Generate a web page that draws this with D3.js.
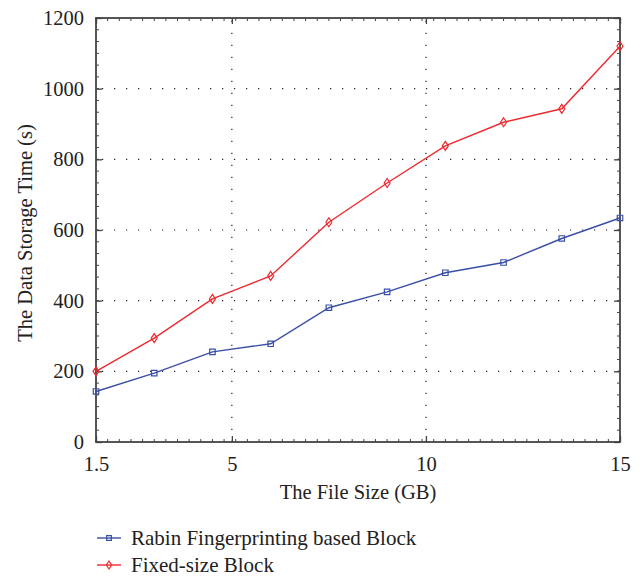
<!DOCTYPE html>
<html><head><meta charset="utf-8">
<script src="https://cdn.jsdelivr.net/npm/d3@7/dist/d3.min.js"></script>
<style>body{margin:0;background:#fff;} svg{display:block;}</style>
</head><body>
<svg id="chart" width="642" height="578"></svg>
<script>
const fileSizes = [1.5, 3, 4.5, 6, 7.5, 9, 10.5, 12, 13.5, 15];
const rabinTimes = [143, 195, 255, 278, 380, 425, 479, 508, 576, 634];
const fixedTimes = [200, 294, 405, 470, 622, 733, 838, 905, 943, 1120];
const xTicks = [1.5, 5, 10, 15];
const yTicks = [0, 200, 400, 600, 800, 1000, 1200];
const seriesNames = ["Rabin Fingerprinting based Block", "Fixed-size Block"];

const font = "'Liberation Serif', 'DejaVu Serif', serif";
const blue = "#3a4fa6", red = "#ec2a2f", frame = "#444";
const L = 96, R = 620, T = 18, B = 442;
const svg = d3.select("#chart");
const x = d3.scaleLinear().domain([1.5, 15]).range([L, R]);
const y = d3.scaleLinear().domain([0, 1200]).range([B, T]);

// grid
const g = svg.append("g");
g.selectAll(".gx").data(xTicks.filter(d => d > 1.5 && d < 15)).enter().append("line")
  .attr("x1", d => x(d)).attr("x2", d => x(d)).attr("y1", B).attr("y2", T)
  .attr("stroke", "#222").attr("stroke-width", 1.2).attr("stroke-dasharray", "1.2,10.8");
g.selectAll(".gy").data(yTicks.filter(d => d > 0 && d < 1200)).enter().append("line")
  .attr("x1", L).attr("x2", R).attr("y1", d => y(d)).attr("y2", d => y(d))
  .attr("stroke", "#222").attr("stroke-width", 1.2).attr("stroke-dasharray", "1.2,10.8")
  .attr("stroke-dashoffset", -6);

// minor ticks
const xMinor = d3.range(0, 46).map(i => 1.5 + i * 0.3);
const yMinor = d3.range(0, 37).map(i => i * 200 / 6);
const tk = svg.append("g").attr("stroke", frame).attr("stroke-width", 1);
xMinor.forEach(v => {
  tk.append("line").attr("x1", x(v)).attr("x2", x(v)).attr("y1", B).attr("y2", B - 3);
  tk.append("line").attr("x1", x(v)).attr("x2", x(v)).attr("y1", T).attr("y2", T + 3);
});
yMinor.forEach(v => {
  tk.append("line").attr("x1", L).attr("x2", L + 3).attr("y1", y(v)).attr("y2", y(v));
  tk.append("line").attr("x1", R).attr("x2", R - 3).attr("y1", y(v)).attr("y2", y(v));
});

// axes with major ticks
const xAxis = svg.append("g").attr("transform", `translate(0,${B})`)
  .call(d3.axisBottom(x).tickValues(xTicks).tickSize(-6).tickPadding(14).tickFormat(d => String(d)));
const xTop = svg.append("g").attr("transform", `translate(0,${T})`)
  .call(d3.axisTop(x).tickValues(xTicks).tickSize(-6).tickFormat(""));
const yAxis = svg.append("g").attr("transform", `translate(${L},0)`)
  .call(d3.axisLeft(y).tickValues(yTicks).tickSize(-6).tickPadding(12).tickFormat(d => String(d)));
const yRight = svg.append("g").attr("transform", `translate(${R},0)`)
  .call(d3.axisRight(y).tickValues(yTicks).tickSize(-6).tickFormat(""));
[xAxis, xTop, yAxis, yRight].forEach(a => {
  a.select(".domain").remove();
  a.selectAll(".tick line").attr("stroke", frame).attr("stroke-width", 1.3);
  a.selectAll("text").attr("font-family", font).attr("font-size", 20.5).attr("fill", "#222");
});

// frame
svg.append("rect").attr("x", L).attr("y", T).attr("width", R - L).attr("height", B - T)
  .attr("fill", "none").attr("stroke", frame).attr("stroke-width", 1.8);

// lines
const line = d3.line().x((d, i) => x(fileSizes[i])).y(d => y(d));
svg.append("path").datum(rabinTimes).attr("d", line).attr("fill", "none").attr("stroke", blue).attr("stroke-width", 1.4);
svg.append("path").datum(fixedTimes).attr("d", line).attr("fill", "none").attr("stroke", red).attr("stroke-width", 1.4);

const sq = d3.symbol().type(d3.symbolSquare).size(30);
const dia = "M0,-4.5L3,0L0,4.5L-3,0Z";
svg.selectAll(".mb").data(rabinTimes).enter().append("path")
  .attr("d", sq).attr("transform", (d, i) => `translate(${x(fileSizes[i])},${y(d)})`)
  .attr("fill", "none").attr("stroke", blue).attr("stroke-width", 1.2);
svg.selectAll(".mr").data(fixedTimes).enter().append("path")
  .attr("d", dia).attr("transform", (d, i) => `translate(${x(fileSizes[i])},${y(d)})`)
  .attr("fill", "none").attr("stroke", red).attr("stroke-width", 1.2);

// axis titles
svg.append("text").attr("x", 358).attr("y", 499).attr("text-anchor", "middle")
  .attr("font-family", font).attr("font-size", 20.5).attr("fill", "#222").text("The File Size (GB)");
svg.append("text").attr("transform", "translate(32,233) rotate(-90)").attr("text-anchor", "middle")
  .attr("font-family", font).attr("font-size", 20.5).attr("fill", "#222").text("The Data Storage Time (s)");

// legend
const leg = svg.append("g");
[[blue, sq, 538], [red, dia, 565]].forEach(([c, m, yy], i) => {
  leg.append("line").attr("x1", 97).attr("x2", 121).attr("y1", yy).attr("y2", yy).attr("stroke", c).attr("stroke-width", 1.4);
  leg.append("path").attr("d", i === 0 ? d3.symbol().type(d3.symbolSquare).size(22)() : "M0,-4L2.6,0L0,4L-2.6,0Z")
    .attr("transform", `translate(109,${yy})`).attr("fill", "none").attr("stroke", c).attr("stroke-width", 1.2);
  leg.append("text").attr("x", 131).attr("y", yy + 6.5).attr("font-family", font).attr("font-size", 21)
    .attr("fill", "#222").text(seriesNames[i]);
});
</script>
</body></html>
